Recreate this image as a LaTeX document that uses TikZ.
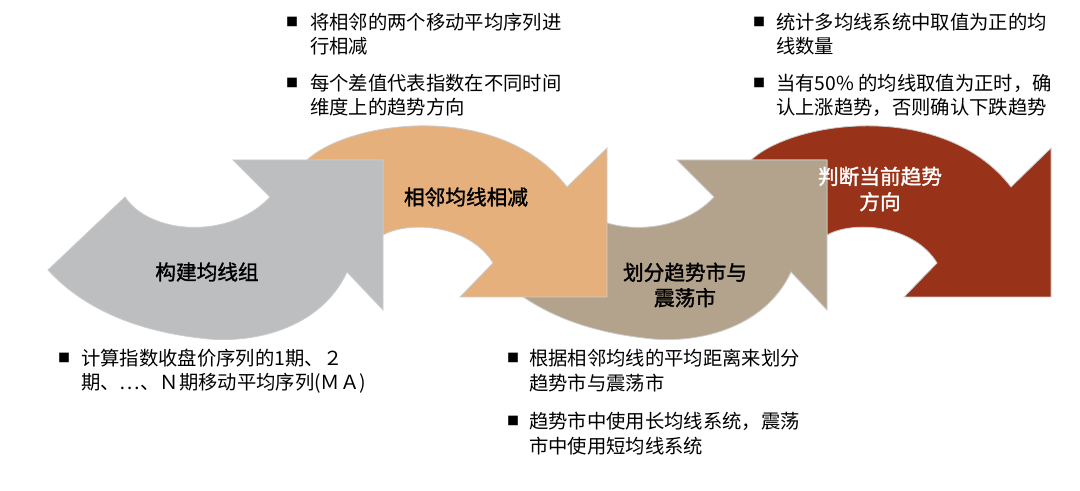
\documentclass[tikz,border=0pt]{standalone}
\usepackage{fontspec}
\setmainfont{Noto Sans CJK SC}
\newfontfamily\cjkb[FakeBold=1.5]{Noto Sans CJK SC}
\definecolor{cgray}{HTML}{BDBEC0}
\definecolor{corange}{HTML}{E6B07C}
\definecolor{ctan}{HTML}{B3A38C}
\definecolor{cred}{HTML}{983319}
\begin{document}
\begin{tikzpicture}[x=0.75pt,y=-0.75pt,
  shp/.style={draw=white!80!black,line width=0.6pt},
  lbl/.style={font=\fontsize{15.5}{19}\selectfont\cjkb,align=center},
  bul/.style={font=\fontsize{14.5}{18}\selectfont,anchor=west,inner sep=0pt},
  sq/.style={font=\fontsize{9}{10}\selectfont,anchor=center,inner sep=0pt}]
\useasboundingbox[fill=white] (0,0) rectangle (1080,491);
% red (orange shape shifted +444)
\begin{scope}[xshift=444*0.75pt]
\fill[cred,shp] (307,160) .. controls (350,120) and (500,100) .. (567,187) -- (607,148) -- (607,297) -- (460,297) -- (493,263) .. controls (470,225) and (410,220) .. (383,235) -- (383,160) -- cycle;
\end{scope}
% tan (gray shape shifted +444)
\begin{scope}[xshift=444*0.75pt]
\fill[ctan,shp] (48,270) -- (125,197) .. controls (150,235) and (230,240) .. (270,197) -- (233,160) -- (383,160) -- (383,310) -- (347,272) .. controls (320,330) and (250,345) .. (200,338) .. controls (130,330) and (80,305) .. (48,270) -- cycle;
\end{scope}
% orange
\fill[corange,shp] (307,160) .. controls (350,120) and (500,100) .. (567,187) -- (607,148) -- (607,297) -- (460,297) -- (493,263) .. controls (470,225) and (410,220) .. (383,235) -- (383,160) -- cycle;
% gray
\fill[cgray,shp] (48,270) -- (125,197) .. controls (150,235) and (230,240) .. (270,197) -- (233,160) -- (383,160) -- (383,310) -- (347,272) .. controls (320,330) and (250,345) .. (200,338) .. controls (130,330) and (80,305) .. (48,270) -- cycle;
% labels
\node[lbl] (l1) at (207,272) {构建均线组};
\node[lbl] (l2) at (466,197) {相邻均线相减};
\node[lbl] (l3) at (685,285) {划分趋势市与\\震荡市};
\node[lbl,text=white] (l4) at (880,189) {判断当前趋势\\方向};
% bullets top-left
\node[sq] (s1) at (292,22) {■};
\node[bul] (t1a) at (310,22) {将相邻的两个移动平均序列进};
\node[bul] (t1b) at (310,46) {行相减};
\node[sq] (s2) at (292,83) {■};
\node[bul] (t2a) at (310,83) {每个差值代表指数在不同时间};
\node[bul] (t2b) at (310,107) {维度上的趋势方向};
% bullets top-right
\node[sq] (s3) at (759,22) {■};
\node[bul] (t3a) at (776,22) {统计多均线系统中取值为正的均};
\node[bul] (t3b) at (776,46) {线数量};
\node[sq] (s4) at (759,83) {■};
\node[bul] (t4a) at (776,83) {当有50\% 的均线取值为正时，确};
\node[bul] (t4b) at (776,107) {认上涨趋势，否则确认下跌趋势};
% bottom-left
\node[sq] (s5) at (64,358) {■};
\node[bul] (t5a) at (81,358) {计算指数收盘价序列的1期、２};
\node[bul] (t5b) at (81,383) {期、…、Ｎ期移动平均序列(ＭＡ)};
% bottom-middle
\node[sq] (s6) at (513,358) {■};
\node[bul] (t6a) at (529,358) {根据相邻均线的平均距离来划分};
\node[bul] (t6b) at (529,383) {趋势市与震荡市};
\node[sq] (s7) at (513,421) {■};
\node[bul] (t7a) at (529,421) {趋势市中使用长均线系统，震荡};
\node[bul] (t7b) at (529,446) {市中使用短均线系统};
\end{tikzpicture}
\end{document}
